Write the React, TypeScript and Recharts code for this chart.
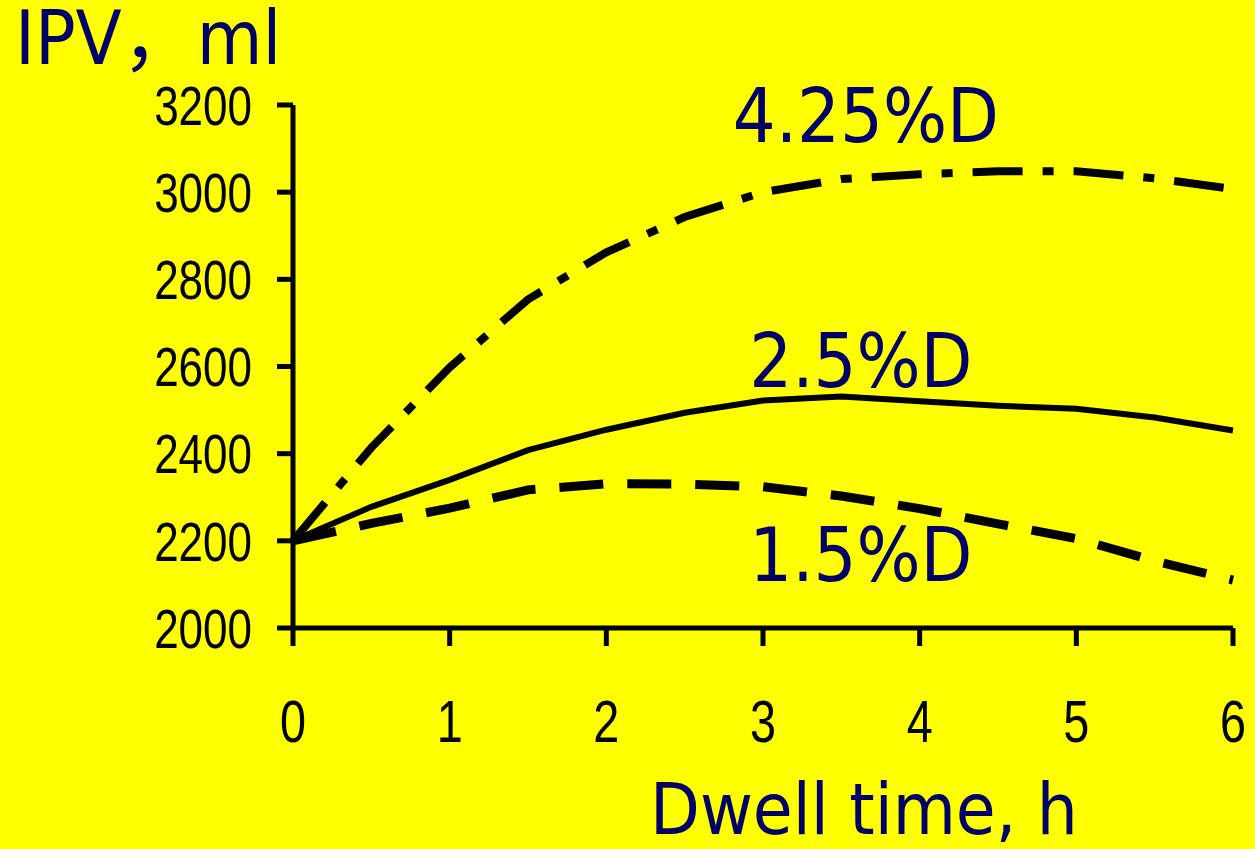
import React from 'react';
import { LineChart, Line, XAxis, YAxis, ReferenceDot } from 'recharts';

// dwell time (h) and intraperitoneal volume (ml) per glucose strength
const dwellHours = [0, 0.5, 1, 1.5, 2, 2.5, 3, 3.5, 4, 4.5, 5, 5.5, 6];
const ipv15 = [2200, 2240, 2275, 2317, 2331, 2330, 2324, 2303, 2274, 2239, 2205, 2154, 2110];
const ipv25 = [2200, 2278, 2340, 2408, 2455, 2494, 2522, 2531, 2520, 2510, 2503, 2483, 2453];
const ipv425 = [2200, 2414, 2598, 2754, 2862, 2943, 3000, 3030, 3041, 3048, 3048, 3032, 3007];

const xTicks = [0, 1, 2, 3, 4, 5, 6];
const yTicks = [2000, 2200, 2400, 2600, 2800, 3000, 3200];

// annotation labels: [text, dwell time, ipv]
const curveLabels: [string, number, number][] = [
  ['4.25%D', 3.657, 3177],
  ['2.5%D', 3.625, 2613],
  ['1.5%D', 3.625, 2168],
];

const data = dwellHours.map((t, i) => ({
  t,
  d15: ipv15[i],
  d25: ipv25[i],
  d425: ipv425[i],
}));

const NAVY = '#000066';
const TITLE_FONT = "'DejaVu Sans Condensed', 'DejaVu Sans', 'Noto Sans CJK SC', sans-serif";
const TICK_FONT = "'Liberation Sans', Arial, sans-serif";

// the tick font is a narrow grotesque; squeeze the regular one horizontally
const XTick = (props: any) => {
  const { x, y, payload } = props;
  return (
    <text
      transform={`translate(${x},${y}) scale(0.78,1)`}
      textAnchor="middle"
      dy="0.71em"
      fill="#000"
      fontSize={60}
      fontFamily={TICK_FONT}
    >
      {payload.value}
    </text>
  );
};

const YTick = (props: any) => {
  const { x, y, payload } = props;
  return (
    <text
      transform={`translate(${x},${y}) scale(0.8,1)`}
      textAnchor="end"
      dy="0.36em"
      fill="#000"
      fontSize={55}
      fontFamily={TICK_FONT}
    >
      {payload.value}
    </text>
  );
};

const App: React.FC = () => {
  return (
    <div style={{ position: 'absolute', left: 0, top: 0, width: 1255, height: 849, background: '#FFFF00' }}>
      <LineChart
        width={1255}
        height={849}
        data={data}
        margin={{ top: 105, right: 22, bottom: 121, left: 0 }}
      >
        <XAxis
          dataKey="t"
          type="number"
          domain={[0, 6]}
          ticks={xTicks}
          height={100}
          tickSize={18}
          tickMargin={53}
          axisLine={{ stroke: '#000', strokeWidth: 5 }}
          tickLine={{ stroke: '#000', strokeWidth: 5 }}
          tick={<XTick />}
        />
        <YAxis
          type="number"
          domain={[2000, 3200]}
          ticks={yTicks}
          width={293}
          tickSize={16}
          tickMargin={25}
          axisLine={{ stroke: '#000', strokeWidth: 5 }}
          tickLine={{ stroke: '#000', strokeWidth: 5 }}
          tick={<YTick />}
        />

        <Line
          type="linear"
          dataKey="d425"
          stroke="#000"
          strokeWidth={8}
          strokeDasharray="50 20 11 20"
          dot={false}
          isAnimationActive={false}
        />
        <Line
          type="linear"
          dataKey="d25"
          stroke="#000"
          strokeWidth={6}
          dot={false}
          isAnimationActive={false}
        />
        <Line
          type="linear"
          dataKey="d15"
          stroke="#000"
          strokeWidth={9}
          strokeDasharray="44 24"
          dot={false}
          isAnimationActive={false}
        />

        {curveLabels.map(([text, x, y]) => (
          <ReferenceDot
            key={text}
            x={x}
            y={y}
            r={0}
            fill="none"
            stroke="none"
            label={{ value: text, position: 'center', fill: NAVY, fontSize: 75, fontFamily: TITLE_FONT }}
          />
        ))}
      </LineChart>

      <svg
        width={1255}
        height={849}
        style={{ position: 'absolute', left: 0, top: 0, pointerEvents: 'none' }}
      >
        <text x={15} y={64} fill={NAVY} fontSize={75} fontFamily={TITLE_FONT}>
          IPV，ml
        </text>
        <text x={650} y={834} fill={NAVY} fontSize={72} fontFamily={TITLE_FONT}>
          Dwell time, h
        </text>
      </svg>
    </div>
  );
};

export default App;
